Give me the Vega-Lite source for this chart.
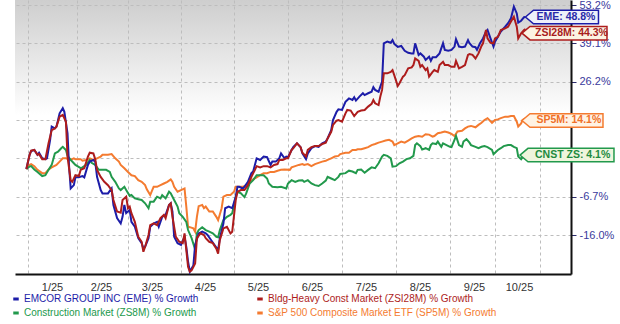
{
  "$schema": "https://vega.github.io/schema/vega-lite/v6.json",
  "width": 556,
  "height": 274,
  "autosize": {"type": "none"},
  "padding": {"left": 15, "top": 0, "right": 49, "bottom": 50},
  "background": "#ffffff",
  "config": {
    "view": {"stroke": null, "fill": {"gradient": "linear", "x1": 0, "y1": 0, "x2": 0, "y2": 1, "stops": [{"offset": 0, "color": "#cecece"}, {"offset": 0.42, "color": "#ffffff"}, {"offset": 1, "color": "#ffffff"}]}},
    "font": "Liberation Sans"
  },
  "datasets": {
    "rows": [
      {"d":"2024-12-31","s":"SP5M","v":0},{"d":"2025-01-02","s":"SP5M","v":1.0},{"d":"2025-01-03","s":"SP5M","v":1.2},{"d":"2025-01-05","s":"SP5M","v":0.7},{"d":"2025-01-07","s":"SP5M","v":-0.2},{"d":"2025-01-10","s":"SP5M","v":-1.0},{"d":"2025-01-12","s":"SP5M","v":-1.0},{"d":"2025-01-14","s":"SP5M","v":-0.1},{"d":"2025-01-16","s":"SP5M","v":0.4},{"d":"2025-01-19","s":"SP5M","v":1.0},{"d":"2025-01-21","s":"SP5M","v":1.8},{"d":"2025-01-23","s":"SP5M","v":2.6},{"d":"2025-01-25","s":"SP5M","v":2.6},{"d":"2025-01-28","s":"SP5M","v":2.2},{"d":"2025-01-30","s":"SP5M","v":2.6},{"d":"2025-01-31","s":"SP5M","v":2.4},{"d":"2025-02-03","s":"SP5M","v":2.4},{"d":"2025-02-04","s":"SP5M","v":2.0},{"d":"2025-02-06","s":"SP5M","v":2.2},{"d":"2025-02-08","s":"SP5M","v":2.6},{"d":"2025-02-10","s":"SP5M","v":2.2},{"d":"2025-02-12","s":"SP5M","v":2.6},{"d":"2025-02-14","s":"SP5M","v":3.1},{"d":"2025-02-15","s":"SP5M","v":3.6},{"d":"2025-02-18","s":"SP5M","v":3.6},{"d":"2025-02-20","s":"SP5M","v":3.8},{"d":"2025-02-22","s":"SP5M","v":2.6},{"d":"2025-02-24","s":"SP5M","v":1.8},{"d":"2025-02-25","s":"SP5M","v":1.0},{"d":"2025-02-27","s":"SP5M","v":0.2},{"d":"2025-03-01","s":"SP5M","v":-0.7},{"d":"2025-03-03","s":"SP5M","v":-1.5},{"d":"2025-03-05","s":"SP5M","v":-1.7},{"d":"2025-03-07","s":"SP5M","v":-2.7},{"d":"2025-03-09","s":"SP5M","v":-3.1},{"d":"2025-03-11","s":"SP5M","v":-3.9},{"d":"2025-03-12","s":"SP5M","v":-4.9},{"d":"2025-03-14","s":"SP5M","v":-6.3},{"d":"2025-03-15","s":"SP5M","v":-5.3},{"d":"2025-03-16","s":"SP5M","v":-4.3},{"d":"2025-03-18","s":"SP5M","v":-4.3},{"d":"2025-03-20","s":"SP5M","v":-3.9},{"d":"2025-03-22","s":"SP5M","v":-3.5},{"d":"2025-03-24","s":"SP5M","v":-3.1},{"d":"2025-03-26","s":"SP5M","v":-2.5},{"d":"2025-03-27","s":"SP5M","v":-3.1},{"d":"2025-03-28","s":"SP5M","v":-4.3},{"d":"2025-03-30","s":"SP5M","v":-5.5},{"d":"2025-04-01","s":"SP5M","v":-5.1},{"d":"2025-04-03","s":"SP5M","v":-4.7},{"d":"2025-04-04","s":"SP5M","v":-9.1},{"d":"2025-04-05","s":"SP5M","v":-14.0},{"d":"2025-04-06","s":"SP5M","v":-14.1},{"d":"2025-04-08","s":"SP5M","v":-14.4},{"d":"2025-04-09","s":"SP5M","v":-15.2},{"d":"2025-04-10","s":"SP5M","v":-11.6},{"d":"2025-04-11","s":"SP5M","v":-9.0},{"d":"2025-04-13","s":"SP5M","v":-8.7},{"d":"2025-04-14","s":"SP5M","v":-9.5},{"d":"2025-04-15","s":"SP5M","v":-9.1},{"d":"2025-04-17","s":"SP5M","v":-10.3},{"d":"2025-04-19","s":"SP5M","v":-10.3},{"d":"2025-04-21","s":"SP5M","v":-11.6},{"d":"2025-04-22","s":"SP5M","v":-12.4},{"d":"2025-04-24","s":"SP5M","v":-9.5},{"d":"2025-04-25","s":"SP5M","v":-6.7},{"d":"2025-04-27","s":"SP5M","v":-6.3},{"d":"2025-04-29","s":"SP5M","v":-6.3},{"d":"2025-05-01","s":"SP5M","v":-5.5},{"d":"2025-05-02","s":"SP5M","v":-4.3},{"d":"2025-05-04","s":"SP5M","v":-4.3},{"d":"2025-05-06","s":"SP5M","v":-4.3},{"d":"2025-05-08","s":"SP5M","v":-3.9},{"d":"2025-05-10","s":"SP5M","v":-3.1},{"d":"2025-05-12","s":"SP5M","v":-2.5},{"d":"2025-05-14","s":"SP5M","v":-2.0},{"d":"2025-05-16","s":"SP5M","v":-1.5},{"d":"2025-05-18","s":"SP5M","v":-1.0},{"d":"2025-05-20","s":"SP5M","v":-1.0},{"d":"2025-05-22","s":"SP5M","v":-0.7},{"d":"2025-05-24","s":"SP5M","v":-0.7},{"d":"2025-05-26","s":"SP5M","v":-0.4},{"d":"2025-05-28","s":"SP5M","v":-0.2},{"d":"2025-05-30","s":"SP5M","v":-0.1},{"d":"2025-06-02","s":"SP5M","v":-0.2},{"d":"2025-06-03","s":"SP5M","v":0.4},{"d":"2025-06-05","s":"SP5M","v":0.7},{"d":"2025-06-07","s":"SP5M","v":1.0},{"d":"2025-06-09","s":"SP5M","v":1.2},{"d":"2025-06-10","s":"SP5M","v":1.0},{"d":"2025-06-12","s":"SP5M","v":1.2},{"d":"2025-06-14","s":"SP5M","v":0.7},{"d":"2025-06-16","s":"SP5M","v":1.2},{"d":"2025-06-18","s":"SP5M","v":1.5},{"d":"2025-06-20","s":"SP5M","v":1.8},{"d":"2025-06-22","s":"SP5M","v":2.0},{"d":"2025-06-23","s":"SP5M","v":2.2},{"d":"2025-06-25","s":"SP5M","v":2.6},{"d":"2025-06-27","s":"SP5M","v":3.1},{"d":"2025-06-29","s":"SP5M","v":3.3},{"d":"2025-06-30","s":"SP5M","v":3.8},{"d":"2025-07-03","s":"SP5M","v":4.2},{"d":"2025-07-05","s":"SP5M","v":4.2},{"d":"2025-07-07","s":"SP5M","v":5.0},{"d":"2025-07-09","s":"SP5M","v":5.0},{"d":"2025-07-10","s":"SP5M","v":5.2},{"d":"2025-07-12","s":"SP5M","v":5.2},{"d":"2025-07-14","s":"SP5M","v":5.5},{"d":"2025-07-16","s":"SP5M","v":5.8},{"d":"2025-07-18","s":"SP5M","v":6.4},{"d":"2025-07-20","s":"SP5M","v":6.7},{"d":"2025-07-22","s":"SP5M","v":7.1},{"d":"2025-07-24","s":"SP5M","v":7.4},{"d":"2025-07-26","s":"SP5M","v":7.7},{"d":"2025-07-28","s":"SP5M","v":7.9},{"d":"2025-07-30","s":"SP5M","v":7.4},{"d":"2025-07-31","s":"SP5M","v":6.4},{"d":"2025-08-02","s":"SP5M","v":6.9},{"d":"2025-08-04","s":"SP5M","v":7.4},{"d":"2025-08-06","s":"SP5M","v":7.1},{"d":"2025-08-08","s":"SP5M","v":7.7},{"d":"2025-08-10","s":"SP5M","v":8.3},{"d":"2025-08-12","s":"SP5M","v":8.8},{"d":"2025-08-14","s":"SP5M","v":9.0},{"d":"2025-08-16","s":"SP5M","v":8.8},{"d":"2025-08-18","s":"SP5M","v":9.5},{"d":"2025-08-20","s":"SP5M","v":9.4},{"d":"2025-08-22","s":"SP5M","v":8.8},{"d":"2025-08-23","s":"SP5M","v":9.0},{"d":"2025-08-25","s":"SP5M","v":9.8},{"d":"2025-08-27","s":"SP5M","v":10.0},{"d":"2025-08-29","s":"SP5M","v":10.3},{"d":"2025-08-31","s":"SP5M","v":10.0},{"d":"2025-09-02","s":"SP5M","v":9.6},{"d":"2025-09-04","s":"SP5M","v":9.0},{"d":"2025-09-06","s":"SP5M","v":10.3},{"d":"2025-09-09","s":"SP5M","v":10.5},{"d":"2025-09-11","s":"SP5M","v":11.2},{"d":"2025-09-13","s":"SP5M","v":11.7},{"d":"2025-09-15","s":"SP5M","v":11.9},{"d":"2025-09-18","s":"SP5M","v":11.5},{"d":"2025-09-20","s":"SP5M","v":12.2},{"d":"2025-09-22","s":"SP5M","v":12.8},{"d":"2025-09-24","s":"SP5M","v":13.6},{"d":"2025-09-26","s":"SP5M","v":14.2},{"d":"2025-09-29","s":"SP5M","v":12.8},{"d":"2025-10-01","s":"SP5M","v":13.6},{"d":"2025-10-03","s":"SP5M","v":13.8},{"d":"2025-10-05","s":"SP5M","v":14.2},{"d":"2025-10-08","s":"SP5M","v":14.7},{"d":"2025-10-10","s":"SP5M","v":14.7},{"d":"2025-10-12","s":"SP5M","v":14.9},{"d":"2025-10-14","s":"SP5M","v":14.9},{"d":"2025-10-16","s":"SP5M","v":13.1},{"d":"2025-10-17","s":"SP5M","v":11.7},{"d":"2025-10-19","s":"SP5M","v":12.6},{"d":"2025-10-20","s":"SP5M","v":13.6},{"d":"2025-10-22","s":"SP5M","v":14.1},
      {"d":"2024-12-31","s":"ZS8M","v":0},{"d":"2025-01-02","s":"ZS8M","v":0.6},{"d":"2025-01-03","s":"ZS8M","v":0.7},{"d":"2025-01-05","s":"ZS8M","v":-0.1},{"d":"2025-01-07","s":"ZS8M","v":-0.7},{"d":"2025-01-10","s":"ZS8M","v":-1.7},{"d":"2025-01-12","s":"ZS8M","v":-1.5},{"d":"2025-01-14","s":"ZS8M","v":-0.2},{"d":"2025-01-16","s":"ZS8M","v":1.0},{"d":"2025-01-18","s":"ZS8M","v":4.0},{"d":"2025-01-20","s":"ZS8M","v":4.5},{"d":"2025-01-22","s":"ZS8M","v":5.5},{"d":"2025-01-23","s":"ZS8M","v":5.9},{"d":"2025-01-25","s":"ZS8M","v":5.0},{"d":"2025-01-26","s":"ZS8M","v":3.3},{"d":"2025-01-28","s":"ZS8M","v":2.2},{"d":"2025-01-30","s":"ZS8M","v":1.4},{"d":"2025-01-31","s":"ZS8M","v":1.0},{"d":"2025-02-03","s":"ZS8M","v":0.2},{"d":"2025-02-04","s":"ZS8M","v":0.4},{"d":"2025-02-06","s":"ZS8M","v":1.0},{"d":"2025-02-08","s":"ZS8M","v":2.2},{"d":"2025-02-09","s":"ZS8M","v":1.5},{"d":"2025-02-11","s":"ZS8M","v":1.0},{"d":"2025-02-13","s":"ZS8M","v":-0.2},{"d":"2025-02-15","s":"ZS8M","v":-0.2},{"d":"2025-02-17","s":"ZS8M","v":-0.2},{"d":"2025-02-19","s":"ZS8M","v":-0.7},{"d":"2025-02-20","s":"ZS8M","v":-1.9},{"d":"2025-02-22","s":"ZS8M","v":-3.1},{"d":"2025-02-24","s":"ZS8M","v":-4.7},{"d":"2025-02-25","s":"ZS8M","v":-5.1},{"d":"2025-02-27","s":"ZS8M","v":-4.3},{"d":"2025-02-28","s":"ZS8M","v":-5.1},{"d":"2025-03-02","s":"ZS8M","v":-6.5},{"d":"2025-03-03","s":"ZS8M","v":-6.3},{"d":"2025-03-05","s":"ZS8M","v":-7.1},{"d":"2025-03-07","s":"ZS8M","v":-7.3},{"d":"2025-03-09","s":"ZS8M","v":-7.5},{"d":"2025-03-11","s":"ZS8M","v":-8.3},{"d":"2025-03-13","s":"ZS8M","v":-9.5},{"d":"2025-03-14","s":"ZS8M","v":-7.9},{"d":"2025-03-16","s":"ZS8M","v":-7.9},{"d":"2025-03-18","s":"ZS8M","v":-6.7},{"d":"2025-03-20","s":"ZS8M","v":-7.1},{"d":"2025-03-21","s":"ZS8M","v":-6.3},{"d":"2025-03-23","s":"ZS8M","v":-7.1},{"d":"2025-03-25","s":"ZS8M","v":-5.5},{"d":"2025-03-26","s":"ZS8M","v":-5.9},{"d":"2025-03-28","s":"ZS8M","v":-7.5},{"d":"2025-03-30","s":"ZS8M","v":-9.1},{"d":"2025-03-31","s":"ZS8M","v":-10.7},{"d":"2025-04-02","s":"ZS8M","v":-11.6},{"d":"2025-04-04","s":"ZS8M","v":-12.8},{"d":"2025-04-05","s":"ZS8M","v":-14.8},{"d":"2025-04-07","s":"ZS8M","v":-16.7},{"d":"2025-04-09","s":"ZS8M","v":-19.2},{"d":"2025-04-10","s":"ZS8M","v":-15.6},{"d":"2025-04-11","s":"ZS8M","v":-14.8},{"d":"2025-04-13","s":"ZS8M","v":-14.1},{"d":"2025-04-15","s":"ZS8M","v":-14.8},{"d":"2025-04-17","s":"ZS8M","v":-15.2},{"d":"2025-04-19","s":"ZS8M","v":-15.6},{"d":"2025-04-21","s":"ZS8M","v":-16.4},{"d":"2025-04-22","s":"ZS8M","v":-16.5},{"d":"2025-04-23","s":"ZS8M","v":-14.8},{"d":"2025-04-25","s":"ZS8M","v":-12.4},{"d":"2025-04-27","s":"ZS8M","v":-11.6},{"d":"2025-04-29","s":"ZS8M","v":-11.1},{"d":"2025-04-30","s":"ZS8M","v":-10.7},{"d":"2025-05-02","s":"ZS8M","v":-6.7},{"d":"2025-05-03","s":"ZS8M","v":-5.5},{"d":"2025-05-05","s":"ZS8M","v":-5.9},{"d":"2025-05-07","s":"ZS8M","v":-6.8},{"d":"2025-05-08","s":"ZS8M","v":-5.9},{"d":"2025-05-10","s":"ZS8M","v":-3.5},{"d":"2025-05-12","s":"ZS8M","v":-2.7},{"d":"2025-05-14","s":"ZS8M","v":-1.5},{"d":"2025-05-16","s":"ZS8M","v":-1.5},{"d":"2025-05-18","s":"ZS8M","v":-1.5},{"d":"2025-05-20","s":"ZS8M","v":-2.3},{"d":"2025-05-21","s":"ZS8M","v":-3.5},{"d":"2025-05-23","s":"ZS8M","v":-4.3},{"d":"2025-05-26","s":"ZS8M","v":-4.4},{"d":"2025-05-28","s":"ZS8M","v":-4.3},{"d":"2025-05-31","s":"ZS8M","v":-4.7},{"d":"2025-06-01","s":"ZS8M","v":-3.5},{"d":"2025-06-03","s":"ZS8M","v":-2.7},{"d":"2025-06-05","s":"ZS8M","v":-3.1},{"d":"2025-06-07","s":"ZS8M","v":-2.8},{"d":"2025-06-09","s":"ZS8M","v":-2.7},{"d":"2025-06-10","s":"ZS8M","v":-3.1},{"d":"2025-06-12","s":"ZS8M","v":-2.7},{"d":"2025-06-14","s":"ZS8M","v":-3.5},{"d":"2025-06-16","s":"ZS8M","v":-3.9},{"d":"2025-06-18","s":"ZS8M","v":-4.1},{"d":"2025-06-20","s":"ZS8M","v":-3.5},{"d":"2025-06-22","s":"ZS8M","v":-2.8},{"d":"2025-06-23","s":"ZS8M","v":-1.9},{"d":"2025-06-25","s":"ZS8M","v":-2.3},{"d":"2025-06-27","s":"ZS8M","v":-2.7},{"d":"2025-06-29","s":"ZS8M","v":-1.9},{"d":"2025-06-30","s":"ZS8M","v":-1.2},{"d":"2025-07-03","s":"ZS8M","v":-1.0},{"d":"2025-07-05","s":"ZS8M","v":-0.4},{"d":"2025-07-07","s":"ZS8M","v":-0.6},{"d":"2025-07-09","s":"ZS8M","v":-1.0},{"d":"2025-07-10","s":"ZS8M","v":-0.2},{"d":"2025-07-12","s":"ZS8M","v":-0.1},{"d":"2025-07-14","s":"ZS8M","v":-0.9},{"d":"2025-07-16","s":"ZS8M","v":-0.2},{"d":"2025-07-18","s":"ZS8M","v":0.4},{"d":"2025-07-20","s":"ZS8M","v":0.2},{"d":"2025-07-22","s":"ZS8M","v":1.4},{"d":"2025-07-24","s":"ZS8M","v":3.1},{"d":"2025-07-25","s":"ZS8M","v":3.6},{"d":"2025-07-27","s":"ZS8M","v":3.3},{"d":"2025-07-29","s":"ZS8M","v":2.6},{"d":"2025-07-30","s":"ZS8M","v":0.6},{"d":"2025-08-01","s":"ZS8M","v":0.7},{"d":"2025-08-03","s":"ZS8M","v":1.4},{"d":"2025-08-05","s":"ZS8M","v":1.8},{"d":"2025-08-07","s":"ZS8M","v":2.4},{"d":"2025-08-09","s":"ZS8M","v":2.6},{"d":"2025-08-11","s":"ZS8M","v":3.3},{"d":"2025-08-12","s":"ZS8M","v":6.4},{"d":"2025-08-13","s":"ZS8M","v":6.9},{"d":"2025-08-15","s":"ZS8M","v":6.1},{"d":"2025-08-16","s":"ZS8M","v":5.1},{"d":"2025-08-18","s":"ZS8M","v":5.5},{"d":"2025-08-20","s":"ZS8M","v":5.0},{"d":"2025-08-21","s":"ZS8M","v":6.4},{"d":"2025-08-22","s":"ZS8M","v":6.9},{"d":"2025-08-24","s":"ZS8M","v":6.7},{"d":"2025-08-25","s":"ZS8M","v":7.4},{"d":"2025-08-27","s":"ZS8M","v":5.9},{"d":"2025-08-28","s":"ZS8M","v":6.9},{"d":"2025-08-30","s":"ZS8M","v":6.4},{"d":"2025-09-01","s":"ZS8M","v":5.9},{"d":"2025-09-02","s":"ZS8M","v":5.8},{"d":"2025-09-04","s":"ZS8M","v":7.9},{"d":"2025-09-05","s":"ZS8M","v":9.0},{"d":"2025-09-07","s":"ZS8M","v":6.4},{"d":"2025-09-09","s":"ZS8M","v":5.9},{"d":"2025-09-10","s":"ZS8M","v":7.4},{"d":"2025-09-12","s":"ZS8M","v":8.1},{"d":"2025-09-14","s":"ZS8M","v":7.1},{"d":"2025-09-15","s":"ZS8M","v":6.4},{"d":"2025-09-18","s":"ZS8M","v":5.9},{"d":"2025-09-20","s":"ZS8M","v":5.5},{"d":"2025-09-22","s":"ZS8M","v":5.9},{"d":"2025-09-24","s":"ZS8M","v":6.1},{"d":"2025-09-26","s":"ZS8M","v":5.8},{"d":"2025-09-29","s":"ZS8M","v":5.0},{"d":"2025-09-30","s":"ZS8M","v":3.8},{"d":"2025-10-03","s":"ZS8M","v":5.0},{"d":"2025-10-05","s":"ZS8M","v":5.5},{"d":"2025-10-07","s":"ZS8M","v":6.1},{"d":"2025-10-10","s":"ZS8M","v":6.4},{"d":"2025-10-12","s":"ZS8M","v":6.4},{"d":"2025-10-14","s":"ZS8M","v":5.9},{"d":"2025-10-16","s":"ZS8M","v":5.5},{"d":"2025-10-17","s":"ZS8M","v":3.1},{"d":"2025-10-19","s":"ZS8M","v":2.4},{"d":"2025-10-21","s":"ZS8M","v":3.6},{"d":"2025-10-22","s":"ZS8M","v":4.1},
      {"d":"2024-12-31","s":"EME","v":0},{"d":"2025-01-02","s":"EME","v":3.6},{"d":"2025-01-03","s":"EME","v":4.7},{"d":"2025-01-05","s":"EME","v":5.0},{"d":"2025-01-07","s":"EME","v":3.6},{"d":"2025-01-08","s":"EME","v":4.2},{"d":"2025-01-10","s":"EME","v":2.6},{"d":"2025-01-12","s":"EME","v":2.4},{"d":"2025-01-13","s":"EME","v":2.6},{"d":"2025-01-15","s":"EME","v":7.9},{"d":"2025-01-16","s":"EME","v":11.7},{"d":"2025-01-18","s":"EME","v":11.2},{"d":"2025-01-19","s":"EME","v":11.7},{"d":"2025-01-21","s":"EME","v":15.8},{"d":"2025-01-23","s":"EME","v":17.5},{"d":"2025-01-24","s":"EME","v":16.3},{"d":"2025-01-26","s":"EME","v":9.8},{"d":"2025-01-27","s":"EME","v":0.6},{"d":"2025-01-28","s":"EME","v":-4.7},{"d":"2025-01-30","s":"EME","v":-3.9},{"d":"2025-01-31","s":"EME","v":-2.0},{"d":"2025-02-02","s":"EME","v":-2.0},{"d":"2025-02-04","s":"EME","v":-1.7},{"d":"2025-02-05","s":"EME","v":-2.0},{"d":"2025-02-07","s":"EME","v":1.0},{"d":"2025-02-08","s":"EME","v":1.8},{"d":"2025-02-10","s":"EME","v":2.2},{"d":"2025-02-11","s":"EME","v":1.8},{"d":"2025-02-12","s":"EME","v":-1.9},{"d":"2025-02-14","s":"EME","v":-5.1},{"d":"2025-02-15","s":"EME","v":-5.9},{"d":"2025-02-18","s":"EME","v":-5.9},{"d":"2025-02-20","s":"EME","v":-4.7},{"d":"2025-02-21","s":"EME","v":-8.7},{"d":"2025-02-23","s":"EME","v":-11.9},{"d":"2025-02-25","s":"EME","v":-13.2},{"d":"2025-02-26","s":"EME","v":-11.6},{"d":"2025-02-27","s":"EME","v":-8.7},{"d":"2025-02-28","s":"EME","v":-10.7},{"d":"2025-03-02","s":"EME","v":-9.9},{"d":"2025-03-03","s":"EME","v":-12.8},{"d":"2025-03-05","s":"EME","v":-14.0},{"d":"2025-03-07","s":"EME","v":-16.7},{"d":"2025-03-09","s":"EME","v":-17.8},{"d":"2025-03-10","s":"EME","v":-19.0},{"d":"2025-03-11","s":"EME","v":-18.6},{"d":"2025-03-13","s":"EME","v":-16.7},{"d":"2025-03-14","s":"EME","v":-14.0},{"d":"2025-03-16","s":"EME","v":-13.2},{"d":"2025-03-18","s":"EME","v":-12.8},{"d":"2025-03-19","s":"EME","v":-14.0},{"d":"2025-03-21","s":"EME","v":-11.6},{"d":"2025-03-23","s":"EME","v":-11.1},{"d":"2025-03-25","s":"EME","v":-8.7},{"d":"2025-03-26","s":"EME","v":-8.3},{"d":"2025-03-27","s":"EME","v":-10.3},{"d":"2025-03-28","s":"EME","v":-16.4},{"d":"2025-03-30","s":"EME","v":-17.8},{"d":"2025-04-01","s":"EME","v":-18.2},{"d":"2025-04-03","s":"EME","v":-16.4},{"d":"2025-04-04","s":"EME","v":-18.6},{"d":"2025-04-05","s":"EME","v":-21.9},{"d":"2025-04-06","s":"EME","v":-24.1},{"d":"2025-04-07","s":"EME","v":-23.4},{"d":"2025-04-08","s":"EME","v":-22.7},{"d":"2025-04-09","s":"EME","v":-18.2},{"d":"2025-04-11","s":"EME","v":-15.6},{"d":"2025-04-13","s":"EME","v":-15.2},{"d":"2025-04-15","s":"EME","v":-15.6},{"d":"2025-04-16","s":"EME","v":-16.0},{"d":"2025-04-18","s":"EME","v":-17.1},{"d":"2025-04-20","s":"EME","v":-18.2},{"d":"2025-04-22","s":"EME","v":-19.3},{"d":"2025-04-23","s":"EME","v":-16.7},{"d":"2025-04-25","s":"EME","v":-13.2},{"d":"2025-04-26","s":"EME","v":-9.5},{"d":"2025-04-28","s":"EME","v":-9.1},{"d":"2025-04-30","s":"EME","v":-9.5},{"d":"2025-05-02","s":"EME","v":-6.7},{"d":"2025-05-03","s":"EME","v":-4.3},{"d":"2025-05-04","s":"EME","v":-4.3},{"d":"2025-05-06","s":"EME","v":-4.7},{"d":"2025-05-07","s":"EME","v":-4.3},{"d":"2025-05-09","s":"EME","v":-3.1},{"d":"2025-05-11","s":"EME","v":-1.0},{"d":"2025-05-12","s":"EME","v":-0.6},{"d":"2025-05-14","s":"EME","v":2.6},{"d":"2025-05-16","s":"EME","v":2.2},{"d":"2025-05-18","s":"EME","v":3.1},{"d":"2025-05-20","s":"EME","v":2.9},{"d":"2025-05-22","s":"EME","v":1.0},{"d":"2025-05-23","s":"EME","v":1.8},{"d":"2025-05-25","s":"EME","v":1.8},{"d":"2025-05-27","s":"EME","v":2.6},{"d":"2025-05-28","s":"EME","v":4.0},{"d":"2025-05-30","s":"EME","v":2.6},{"d":"2025-05-31","s":"EME","v":3.1},{"d":"2025-06-01","s":"EME","v":2.9},{"d":"2025-06-03","s":"EME","v":5.0},{"d":"2025-06-04","s":"EME","v":5.9},{"d":"2025-06-06","s":"EME","v":6.9},{"d":"2025-06-08","s":"EME","v":5.8},{"d":"2025-06-09","s":"EME","v":4.0},{"d":"2025-06-11","s":"EME","v":2.4},{"d":"2025-06-12","s":"EME","v":4.0},{"d":"2025-06-14","s":"EME","v":5.5},{"d":"2025-06-16","s":"EME","v":6.1},{"d":"2025-06-18","s":"EME","v":5.9},{"d":"2025-06-20","s":"EME","v":6.9},{"d":"2025-06-22","s":"EME","v":7.4},{"d":"2025-06-23","s":"EME","v":8.3},{"d":"2025-06-25","s":"EME","v":10.7},{"d":"2025-06-26","s":"EME","v":13.6},{"d":"2025-06-28","s":"EME","v":16.3},{"d":"2025-06-29","s":"EME","v":17.1},{"d":"2025-07-01","s":"EME","v":16.9},{"d":"2025-07-03","s":"EME","v":19.6},{"d":"2025-07-05","s":"EME","v":20.7},{"d":"2025-07-07","s":"EME","v":20.2},{"d":"2025-07-08","s":"EME","v":21.1},{"d":"2025-07-09","s":"EME","v":20.0},{"d":"2025-07-11","s":"EME","v":21.3},{"d":"2025-07-13","s":"EME","v":22.4},{"d":"2025-07-14","s":"EME","v":21.8},{"d":"2025-07-16","s":"EME","v":22.4},{"d":"2025-07-18","s":"EME","v":22.9},{"d":"2025-07-19","s":"EME","v":24.4},{"d":"2025-07-20","s":"EME","v":23.5},{"d":"2025-07-22","s":"EME","v":22.9},{"d":"2025-07-23","s":"EME","v":24.6},{"d":"2025-07-24","s":"EME","v":26.2},{"d":"2025-07-25","s":"EME","v":39.1},{"d":"2025-07-27","s":"EME","v":39.7},{"d":"2025-07-29","s":"EME","v":39.3},{"d":"2025-07-30","s":"EME","v":40.3},{"d":"2025-07-31","s":"EME","v":38.9},{"d":"2025-08-02","s":"EME","v":37.9},{"d":"2025-08-04","s":"EME","v":38.2},{"d":"2025-08-06","s":"EME","v":36.6},{"d":"2025-08-08","s":"EME","v":35.9},{"d":"2025-08-10","s":"EME","v":35.7},{"d":"2025-08-11","s":"EME","v":35.7},{"d":"2025-08-12","s":"EME","v":39.1},{"d":"2025-08-14","s":"EME","v":35.2},{"d":"2025-08-15","s":"EME","v":35.7},{"d":"2025-08-17","s":"EME","v":34.6},{"d":"2025-08-18","s":"EME","v":33.5},{"d":"2025-08-20","s":"EME","v":34.6},{"d":"2025-08-21","s":"EME","v":33.2},{"d":"2025-08-22","s":"EME","v":34.4},{"d":"2025-08-24","s":"EME","v":34.4},{"d":"2025-08-26","s":"EME","v":35.7},{"d":"2025-08-28","s":"EME","v":39.1},{"d":"2025-08-29","s":"EME","v":36.9},{"d":"2025-08-31","s":"EME","v":36.6},{"d":"2025-09-02","s":"EME","v":36.9},{"d":"2025-09-04","s":"EME","v":38.0},{"d":"2025-09-05","s":"EME","v":40.6},{"d":"2025-09-07","s":"EME","v":38.0},{"d":"2025-09-09","s":"EME","v":37.8},{"d":"2025-09-11","s":"EME","v":38.0},{"d":"2025-09-13","s":"EME","v":40.3},{"d":"2025-09-14","s":"EME","v":39.1},{"d":"2025-09-16","s":"EME","v":38.0},{"d":"2025-09-18","s":"EME","v":37.8},{"d":"2025-09-19","s":"EME","v":36.9},{"d":"2025-09-21","s":"EME","v":39.1},{"d":"2025-09-23","s":"EME","v":40.9},{"d":"2025-09-25","s":"EME","v":43.4},{"d":"2025-09-26","s":"EME","v":44.0},{"d":"2025-09-28","s":"EME","v":40.9},{"d":"2025-09-30","s":"EME","v":38.0},{"d":"2025-10-01","s":"EME","v":39.7},{"d":"2025-10-03","s":"EME","v":41.5},{"d":"2025-10-05","s":"EME","v":43.4},{"d":"2025-10-08","s":"EME","v":45.2},{"d":"2025-10-10","s":"EME","v":46.5},{"d":"2025-10-12","s":"EME","v":48.3},{"d":"2025-10-14","s":"EME","v":52.6},{"d":"2025-10-16","s":"EME","v":50.1},{"d":"2025-10-17","s":"EME","v":46.7},{"d":"2025-10-19","s":"EME","v":47.4},{"d":"2025-10-21","s":"EME","v":48.7},{"d":"2025-10-22","s":"EME","v":48.8},
      {"d":"2024-12-31","s":"ZSI28M","v":0},{"d":"2025-01-02","s":"ZSI28M","v":3.6},{"d":"2025-01-03","s":"ZSI28M","v":4.8},{"d":"2025-01-05","s":"ZSI28M","v":5.0},{"d":"2025-01-07","s":"ZSI28M","v":3.6},{"d":"2025-01-08","s":"ZSI28M","v":3.8},{"d":"2025-01-10","s":"ZSI28M","v":2.4},{"d":"2025-01-12","s":"ZSI28M","v":2.4},{"d":"2025-01-14","s":"ZSI28M","v":6.9},{"d":"2025-01-16","s":"ZSI28M","v":10.7},{"d":"2025-01-18","s":"ZSI28M","v":11.2},{"d":"2025-01-19","s":"ZSI28M","v":11.7},{"d":"2025-01-21","s":"ZSI28M","v":14.7},{"d":"2025-01-23","s":"ZSI28M","v":15.3},{"d":"2025-01-25","s":"ZSI28M","v":13.1},{"d":"2025-01-26","s":"ZSI28M","v":3.1},{"d":"2025-01-28","s":"ZSI28M","v":-2.7},{"d":"2025-01-29","s":"ZSI28M","v":-3.1},{"d":"2025-01-31","s":"ZSI28M","v":-1.5},{"d":"2025-02-02","s":"ZSI28M","v":-1.7},{"d":"2025-02-03","s":"ZSI28M","v":-0.2},{"d":"2025-02-05","s":"ZSI28M","v":0.2},{"d":"2025-02-07","s":"ZSI28M","v":3.1},{"d":"2025-02-08","s":"ZSI28M","v":4.2},{"d":"2025-02-10","s":"ZSI28M","v":4.0},{"d":"2025-02-11","s":"ZSI28M","v":2.4},{"d":"2025-02-12","s":"ZSI28M","v":-0.2},{"d":"2025-02-14","s":"ZSI28M","v":-1.9},{"d":"2025-02-16","s":"ZSI28M","v":-3.1},{"d":"2025-02-18","s":"ZSI28M","v":-3.9},{"d":"2025-02-20","s":"ZSI28M","v":-5.1},{"d":"2025-02-21","s":"ZSI28M","v":-7.5},{"d":"2025-02-23","s":"ZSI28M","v":-10.3},{"d":"2025-02-25","s":"ZSI28M","v":-10.6},{"d":"2025-02-26","s":"ZSI28M","v":-7.5},{"d":"2025-02-28","s":"ZSI28M","v":-6.7},{"d":"2025-03-01","s":"ZSI28M","v":-9.5},{"d":"2025-03-02","s":"ZSI28M","v":-9.1},{"d":"2025-03-03","s":"ZSI28M","v":-10.7},{"d":"2025-03-05","s":"ZSI28M","v":-12.8},{"d":"2025-03-07","s":"ZSI28M","v":-16.4},{"d":"2025-03-09","s":"ZSI28M","v":-17.5},{"d":"2025-03-10","s":"ZSI28M","v":-19.7},{"d":"2025-03-11","s":"ZSI28M","v":-18.6},{"d":"2025-03-13","s":"ZSI28M","v":-16.0},{"d":"2025-03-14","s":"ZSI28M","v":-13.6},{"d":"2025-03-16","s":"ZSI28M","v":-13.2},{"d":"2025-03-18","s":"ZSI28M","v":-13.6},{"d":"2025-03-20","s":"ZSI28M","v":-11.9},{"d":"2025-03-22","s":"ZSI28M","v":-11.1},{"d":"2025-03-23","s":"ZSI28M","v":-11.9},{"d":"2025-03-25","s":"ZSI28M","v":-8.7},{"d":"2025-03-26","s":"ZSI28M","v":-8.3},{"d":"2025-03-27","s":"ZSI28M","v":-11.6},{"d":"2025-03-29","s":"ZSI28M","v":-16.4},{"d":"2025-03-31","s":"ZSI28M","v":-17.5},{"d":"2025-04-02","s":"ZSI28M","v":-17.8},{"d":"2025-04-03","s":"ZSI28M","v":-15.6},{"d":"2025-04-04","s":"ZSI28M","v":-19.3},{"d":"2025-04-05","s":"ZSI28M","v":-23.0},{"d":"2025-04-06","s":"ZSI28M","v":-24.1},{"d":"2025-04-07","s":"ZSI28M","v":-23.8},{"d":"2025-04-09","s":"ZSI28M","v":-22.3},{"d":"2025-04-10","s":"ZSI28M","v":-16.7},{"d":"2025-04-12","s":"ZSI28M","v":-15.6},{"d":"2025-04-14","s":"ZSI28M","v":-16.0},{"d":"2025-04-15","s":"ZSI28M","v":-16.7},{"d":"2025-04-17","s":"ZSI28M","v":-17.5},{"d":"2025-04-19","s":"ZSI28M","v":-17.8},{"d":"2025-04-21","s":"ZSI28M","v":-19.0},{"d":"2025-04-22","s":"ZSI28M","v":-20.1},{"d":"2025-04-23","s":"ZSI28M","v":-17.1},{"d":"2025-04-25","s":"ZSI28M","v":-14.4},{"d":"2025-04-27","s":"ZSI28M","v":-14.0},{"d":"2025-04-29","s":"ZSI28M","v":-15.6},{"d":"2025-04-30","s":"ZSI28M","v":-15.2},{"d":"2025-05-02","s":"ZSI28M","v":-7.5},{"d":"2025-05-03","s":"ZSI28M","v":-5.5},{"d":"2025-05-05","s":"ZSI28M","v":-5.1},{"d":"2025-05-07","s":"ZSI28M","v":-5.1},{"d":"2025-05-09","s":"ZSI28M","v":-3.9},{"d":"2025-05-11","s":"ZSI28M","v":-1.9},{"d":"2025-05-13","s":"ZSI28M","v":-0.2},{"d":"2025-05-14","s":"ZSI28M","v":0.7},{"d":"2025-05-16","s":"ZSI28M","v":0.4},{"d":"2025-05-18","s":"ZSI28M","v":0.7},{"d":"2025-05-20","s":"ZSI28M","v":0.7},{"d":"2025-05-22","s":"ZSI28M","v":0.4},{"d":"2025-05-24","s":"ZSI28M","v":1.0},{"d":"2025-05-26","s":"ZSI28M","v":1.2},{"d":"2025-05-27","s":"ZSI28M","v":2.2},{"d":"2025-05-29","s":"ZSI28M","v":2.2},{"d":"2025-05-31","s":"ZSI28M","v":2.6},{"d":"2025-06-01","s":"ZSI28M","v":2.6},{"d":"2025-06-03","s":"ZSI28M","v":5.0},{"d":"2025-06-04","s":"ZSI28M","v":5.5},{"d":"2025-06-06","s":"ZSI28M","v":6.9},{"d":"2025-06-08","s":"ZSI28M","v":5.8},{"d":"2025-06-09","s":"ZSI28M","v":4.2},{"d":"2025-06-11","s":"ZSI28M","v":3.1},{"d":"2025-06-12","s":"ZSI28M","v":5.0},{"d":"2025-06-14","s":"ZSI28M","v":5.8},{"d":"2025-06-16","s":"ZSI28M","v":6.1},{"d":"2025-06-18","s":"ZSI28M","v":6.1},{"d":"2025-06-20","s":"ZSI28M","v":6.7},{"d":"2025-06-22","s":"ZSI28M","v":7.1},{"d":"2025-06-23","s":"ZSI28M","v":8.3},{"d":"2025-06-25","s":"ZSI28M","v":10.2},{"d":"2025-06-26","s":"ZSI28M","v":12.2},{"d":"2025-06-28","s":"ZSI28M","v":13.4},{"d":"2025-06-29","s":"ZSI28M","v":13.6},{"d":"2025-07-01","s":"ZSI28M","v":13.1},{"d":"2025-07-03","s":"ZSI28M","v":15.8},{"d":"2025-07-04","s":"ZSI28M","v":16.9},{"d":"2025-07-06","s":"ZSI28M","v":16.7},{"d":"2025-07-08","s":"ZSI28M","v":14.9},{"d":"2025-07-10","s":"ZSI28M","v":16.3},{"d":"2025-07-12","s":"ZSI28M","v":16.7},{"d":"2025-07-14","s":"ZSI28M","v":16.9},{"d":"2025-07-16","s":"ZSI28M","v":18.0},{"d":"2025-07-18","s":"ZSI28M","v":18.9},{"d":"2025-07-19","s":"ZSI28M","v":20.2},{"d":"2025-07-20","s":"ZSI28M","v":19.1},{"d":"2025-07-22","s":"ZSI28M","v":18.5},{"d":"2025-07-23","s":"ZSI28M","v":21.3},{"d":"2025-07-24","s":"ZSI28M","v":23.5},{"d":"2025-07-25","s":"ZSI28M","v":29.0},{"d":"2025-07-27","s":"ZSI28M","v":29.0},{"d":"2025-07-29","s":"ZSI28M","v":29.5},{"d":"2025-07-30","s":"ZSI28M","v":30.1},{"d":"2025-07-31","s":"ZSI28M","v":28.4},{"d":"2025-08-02","s":"ZSI28M","v":24.8},{"d":"2025-08-03","s":"ZSI28M","v":25.7},{"d":"2025-08-05","s":"ZSI28M","v":27.9},{"d":"2025-08-06","s":"ZSI28M","v":28.4},{"d":"2025-08-08","s":"ZSI28M","v":30.7},{"d":"2025-08-10","s":"ZSI28M","v":31.0},{"d":"2025-08-11","s":"ZSI28M","v":31.8},{"d":"2025-08-12","s":"ZSI28M","v":34.0},{"d":"2025-08-14","s":"ZSI28M","v":33.2},{"d":"2025-08-15","s":"ZSI28M","v":31.2},{"d":"2025-08-16","s":"ZSI28M","v":31.8},{"d":"2025-08-18","s":"ZSI28M","v":30.1},{"d":"2025-08-19","s":"ZSI28M","v":30.7},{"d":"2025-08-20","s":"ZSI28M","v":27.9},{"d":"2025-08-22","s":"ZSI28M","v":29.5},{"d":"2025-08-23","s":"ZSI28M","v":30.1},{"d":"2025-08-25","s":"ZSI28M","v":29.5},{"d":"2025-08-26","s":"ZSI28M","v":31.8},{"d":"2025-08-28","s":"ZSI28M","v":32.9},{"d":"2025-08-29","s":"ZSI28M","v":31.8},{"d":"2025-08-31","s":"ZSI28M","v":31.8},{"d":"2025-09-02","s":"ZSI28M","v":31.2},{"d":"2025-09-04","s":"ZSI28M","v":31.2},{"d":"2025-09-05","s":"ZSI28M","v":33.2},{"d":"2025-09-07","s":"ZSI28M","v":30.7},{"d":"2025-09-09","s":"ZSI28M","v":31.2},{"d":"2025-09-11","s":"ZSI28M","v":31.8},{"d":"2025-09-13","s":"ZSI28M","v":35.2},{"d":"2025-09-14","s":"ZSI28M","v":35.5},{"d":"2025-09-16","s":"ZSI28M","v":35.2},{"d":"2025-09-18","s":"ZSI28M","v":34.0},{"d":"2025-09-20","s":"ZSI28M","v":35.7},{"d":"2025-09-22","s":"ZSI28M","v":38.2},{"d":"2025-09-23","s":"ZSI28M","v":39.1},{"d":"2025-09-25","s":"ZSI28M","v":44.0},{"d":"2025-09-26","s":"ZSI28M","v":40.9},{"d":"2025-09-28","s":"ZSI28M","v":39.3},{"d":"2025-09-30","s":"ZSI28M","v":39.1},{"d":"2025-10-01","s":"ZSI28M","v":40.9},{"d":"2025-10-03","s":"ZSI28M","v":41.5},{"d":"2025-10-05","s":"ZSI28M","v":44.0},{"d":"2025-10-08","s":"ZSI28M","v":44.6},{"d":"2025-10-10","s":"ZSI28M","v":45.2},{"d":"2025-10-12","s":"ZSI28M","v":47.1},{"d":"2025-10-14","s":"ZSI28M","v":48.9},{"d":"2025-10-16","s":"ZSI28M","v":45.2},{"d":"2025-10-17","s":"ZSI28M","v":40.9},{"d":"2025-10-19","s":"ZSI28M","v":42.8},{"d":"2025-10-21","s":"ZSI28M","v":44.0},{"d":"2025-10-22","s":"ZSI28M","v":44.3},
      {"d":"2025-10-22","s":"EME","v":48.8,"t":"EME: 48.8%"},
      {"d":"2025-10-22","s":"ZSI28M","v":44.3,"t":"ZSI28M: 44.3%"},
      {"d":"2025-10-22","s":"SP5M","v":14.1,"t":"SP5M: 14.1%"},
      {"d":"2025-10-22","s":"CNST","v":4.1,"t":"CNST ZS: 4.1%"}
    ]
  },
  "data": {"name": "rows", "format": {"parse": {"d": "utc:'%Y-%m-%d'"}}},
  "encoding": {
    "x": {
      "field": "d", "type": "quantitative",
      "scale": {
        "type": "linear",
        "domain": [1734998400000, 1735689600000, 1738368000000, 1740787200000, 1743465600000, 1746057600000, 1748736000000, 1751328000000, 1754006400000, 1756684800000, 1759276800000, 1761955200000, 1763769600000],
        "range": [0, 13, 62, 113, 166, 219, 273, 327, 381, 435, 480, 525, 556],
        "nice": false, "zero": false
      },
      "axis": {
        "title": null,
        "orient": "bottom",
        "values": [1735689600000, 1738368000000, 1740787200000, 1743465600000, 1746057600000, 1748736000000, 1751328000000, 1754006400000, 1756684800000, 1759276800000, 1761955200000],
        "labelExpr": "utcmonth(datum.value) == 10 ? '' : utcFormat(datum.value, '%-m/%y')",
        "labelOffset": 24,
        "labelFlush": false,
        "labelOverlap": false,
        "labelBound": false,
        "labelFont": "Liberation Sans",
        "labelFontSize": 11,
        "labelColor": "#333333",
        "labelPadding": 7,
        "ticks": false,
        "grid": true,
        "gridColor": "#bdbdbd",
        "gridDash": [3, 3],
        "gridWidth": 1,
        "domainColor": "#111111",
        "domainWidth": 2
      }
    },
    "y": {
      "field": "v", "type": "quantitative",
      "scale": {
        "domain": [-24.6, -16.0, -6.7, 2.6, 13.6, 26.2, 39.1, 53.2, 55.0],
        "range": [274, 235, 196.7, 158.3, 120, 81.7, 43.3, 5, 0],
        "nice": false, "zero": false
      },
      "axis": {
        "title": null,
        "orient": "right",
        "values": [-16.0, -6.7, 2.6, 13.6, 26.2, 39.1, 53.2],
        "labelExpr": "(datum.value == 2.6 || datum.value == 13.6) ? '' : (datum.value < 0 ? '-' : '') + format(abs(datum.value), '.1f') + '%'",
        "labelFont": "Liberation Sans",
        "labelFontSize": 11,
        "labelColor": "#3a3a9c",
        "labelPadding": 3,
        "labelOverlap": false,
        "labelBound": false,
        "labelFlush": false,
        "ticks": true,
        "tickSize": 5,
        "tickColor": "#2a2a6a",
        "tickWidth": 1,
        "grid": true,
        "gridColor": "#bdbdbd",
        "gridDash": [3, 3],
        "gridWidth": 1,
        "domainColor": "#111111",
        "domainWidth": 2
      }
    }
  },
  "layer": [
    {
      "transform": [{"filter": "!datum.t"}],
      "mark": {"type": "line", "strokeWidth": 2, "interpolate": "linear"},
      "encoding": {
        "color": {
          "field": "s", "type": "nominal",
          "scale": {"domain": ["EME", "ZS8M", "ZSI28M", "SP5M"], "range": ["#1c1ca8", "#22994c", "#ad1c1c", "#f47b30"]},
          "legend": {
            "title": null,
            "orient": "none",
            "legendX": -4,
            "legendY": 294,
            "columns": 2,
            "columnPadding": 52,
            "rowPadding": 2,
            "symbolType": "stroke",
            "symbolSize": 30,
            "symbolStrokeWidth": 3,
            "labelFont": "Liberation Sans",
            "labelFontSize": 10,
            "labelOffset": 3,
            "labelLimit": 400,
            "labelExpr": "datum.label == 'EME' ? 'EMCOR GROUP INC (EME) % Growth' : datum.label == 'ZSI28M' ? 'Bldg-Heavy Const Market (ZSI28M) % Growth' : datum.label == 'ZS8M' ? 'Construction Market (ZS8M) % Growth' : 'S&P 500 Composite Market ETF (SP5M) % Growth'",
            "encode": {"labels": {"update": {"fill": {"scale": "color", "field": "value"}}}}
          }
        }
      }
    },
    {
      "transform": [{"filter": "datum.t && datum.s == 'EME'"}],
      "mark": {"type": "point", "shape": "M0,0L0.8,-0.675L7.3,-0.675L7.3,0.675L0.8,0.675Z", "size": 400, "filled": true, "opacity": 1, "fill": "#eef0fa", "stroke": "#1c1ca8", "strokeWidth": 1.5, "xOffset": 0, "yOffset": 0}
    },
    {
      "transform": [{"filter": "datum.t && datum.s == 'EME'"}],
      "mark": {"type": "text", "align": "left", "baseline": "middle", "dx": 11, "dy": 0, "font": "Liberation Sans", "fontSize": 10.5, "fontWeight": "bold", "color": "#2a2aa8"},
      "encoding": {"text": {"field": "t"}}
    },
    {
      "transform": [{"filter": "datum.t && datum.s == 'ZSI28M'"}],
      "mark": {"type": "point", "shape": "M0,0L0.8,-0.675L8.5,-0.675L8.5,0.675L0.8,0.675Z", "size": 400, "filled": true, "opacity": 1, "fill": "#fcf2e2", "stroke": "#ad1c1c", "strokeWidth": 1.5, "xOffset": -3.5, "yOffset": 4}
    },
    {
      "transform": [{"filter": "datum.t && datum.s == 'ZSI28M'"}],
      "mark": {"type": "text", "align": "left", "baseline": "middle", "dx": 9.5, "dy": 4, "font": "Liberation Sans", "fontSize": 10.5, "fontWeight": "bold", "color": "#a81c1c"},
      "encoding": {"text": {"field": "t"}}
    },
    {
      "transform": [{"filter": "datum.t && datum.s == 'SP5M'"}],
      "mark": {"type": "point", "shape": "M0,0L0.8,-0.675L8.1,-0.675L8.1,0.675L0.8,0.675Z", "size": 400, "filled": true, "opacity": 1, "fill": "#fff3e4", "stroke": "#f47b30", "strokeWidth": 1.5, "xOffset": -3.5, "yOffset": 2}
    },
    {
      "transform": [{"filter": "datum.t && datum.s == 'SP5M'"}],
      "mark": {"type": "text", "align": "left", "baseline": "middle", "dx": 11, "dy": 2, "font": "Liberation Sans", "fontSize": 10.5, "fontWeight": "bold", "color": "#f07028"},
      "encoding": {"text": {"field": "t"}}
    },
    {
      "transform": [{"filter": "datum.t && datum.s == 'CNST'"}],
      "mark": {"type": "point", "shape": "M0,0L0.8,-0.675L9.4,-0.675L9.4,0.675L0.8,0.675Z", "size": 400, "filled": true, "opacity": 1, "fill": "#eef5dc", "stroke": "#22994c", "strokeWidth": 1.5, "xOffset": -5.5, "yOffset": 2}
    },
    {
      "transform": [{"filter": "datum.t && datum.s == 'CNST'"}],
      "mark": {"type": "text", "align": "left", "baseline": "middle", "dx": 9.5, "dy": 2, "font": "Liberation Sans", "fontSize": 10.5, "fontWeight": "bold", "color": "#1e8a3e"},
      "encoding": {"text": {"field": "t"}}
    }
  ]
}
